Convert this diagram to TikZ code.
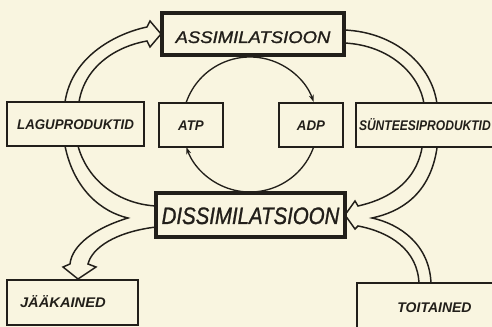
\documentclass[tikz,border=0pt]{standalone}
\usepackage{fontspec}
\usepackage{graphicx}
\newfontfamily\lett{Liberation Sans}
\newfontfamily\lettm[FakeBold=1.2]{Liberation Sans}
\usetikzlibrary{arrows.meta,calc}
\definecolor{paper}{HTML}{F9F5E0}
\definecolor{ink}{HTML}{221F1A}
\begin{document}
\begin{tikzpicture}[x=0.75pt,y=-0.75pt,
  box/.style={draw=ink, line width=1.3pt, fill=paper, inner sep=0pt, text=ink,
    font=\lett\bfseries\itshape\fontsize{10.5pt}{12pt}\selectfont,
    text height=9pt, text depth=0pt},
  thickbox/.style={box, line width=2.6pt},
  band/.style={draw=ink, line width=1.1pt, line join=miter},
  cyc/.style={draw=ink, line width=1.0pt, -{Stealth[length=5.5pt,width=3.6pt]}}
]
\fill[paper] (0,0) rectangle (492,327);
\useasboundingbox (0,0) rectangle (492,327);

% ATP / ADP cycle
\coordinate (cc) at (250,124.5);
\draw[cyc] (cc) ++(-160.53:67.5) arc[start angle=-160.53, end angle=-19.47, radius=67.5];
\draw[cyc] (cc) ++(19.47:67.5) arc[start angle=19.47, end angle=160.53, radius=67.5];

% LAGUPRODUKTID -> ASSIMILATSIOON
\draw[band] (65,102) .. controls (72,55) and (118,33) .. (147,27) -- (150,21) -- (161,34)
  -- (150,47) -- (147,41) .. controls (118,46) and (85,65) .. (79,102);
% ASSIMILATSIOON -> SUNTEESIPRODUKTID
\draw[band] (344,30) .. controls (395,32) and (432,65) .. (437,104);
\draw[band] (344,43) .. controls (390,45) and (420,75) .. (424,104);
% DISSIMILATSIOON -> LAGUPRODUKTID / JAAKAINED
\draw[band] (78,146) .. controls (88,182) and (120,204) .. (156,206);
\draw[band] (65,146) .. controls (74,190) and (102,212) .. (128,218)
  .. controls (95,228) and (72,245) .. (70,264) -- (63,267) -- (78,279) -- (96,267) -- (88,264)
  .. controls (92,248) and (115,232) .. (156,227);
% SUNTEESIPRODUKTID / TOITAINED -> DISSIMILATSIOON
\draw[band] (422,148) .. controls (415,185) and (385,200) .. (358,206) -- (355,201) -- (345,215)
  -- (355,229) -- (358,226) .. controls (390,232) and (418,250) .. (419,284);
\draw[band] (437,148) .. controls (430,195) and (400,212) .. (372,218)
  .. controls (400,224) and (430,245) .. (431,284);

% boxes
\node[thickbox, minimum width=136.5pt, minimum height=31.5pt,
  font=\lettm\itshape\fontsize{12.6pt}{14pt}\selectfont, text height=13.5pt]
  (ass) at (253,34) {\scalebox{1.1}[1]{ASSIMILATSIOON}};
\node[thickbox, minimum width=141.75pt, minimum height=33pt,
  font=\lettm\itshape\fontsize{17.8pt}{20pt}\selectfont, text height=13.5pt]
  (dis) at (250.5,215) {\scalebox{0.86}[1]{DISSIMILATSIOON}};
\node[box, minimum width=102.75pt, minimum height=33pt] (lag) at (75.5,124)
  {\scalebox{0.95}[1]{LAGUPRODUKTID}};
\node[box, minimum width=48pt, minimum height=33pt] (atp) at (191,125)
  {\scalebox{0.95}[1]{ATP}};
\node[box, minimum width=48pt, minimum height=33pt] (adp) at (311,125)
  {\scalebox{0.95}[1]{ADP}};
\node[box, text width=111pt, inner xsep=2.25pt, align=left, minimum height=33pt]
  (syn) at (433,125) {\scalebox{0.86}[1]{SÜNTEESIPRODUKTID}};
\node[box, text width=78.75pt, inner xsep=9.75pt, align=left, minimum height=33.75pt,
  text height=7.5pt] (jaa) at (72.5,302.5) {\scalebox{1.05}[1]{JÄÄKAINED}};
\node[box, minimum width=116.25pt, minimum height=42.75pt, text height=7.5pt,
  text depth=6.75pt] (toi) at (434.5,311.5) {TOITAINED};
\end{tikzpicture}
\end{document}
